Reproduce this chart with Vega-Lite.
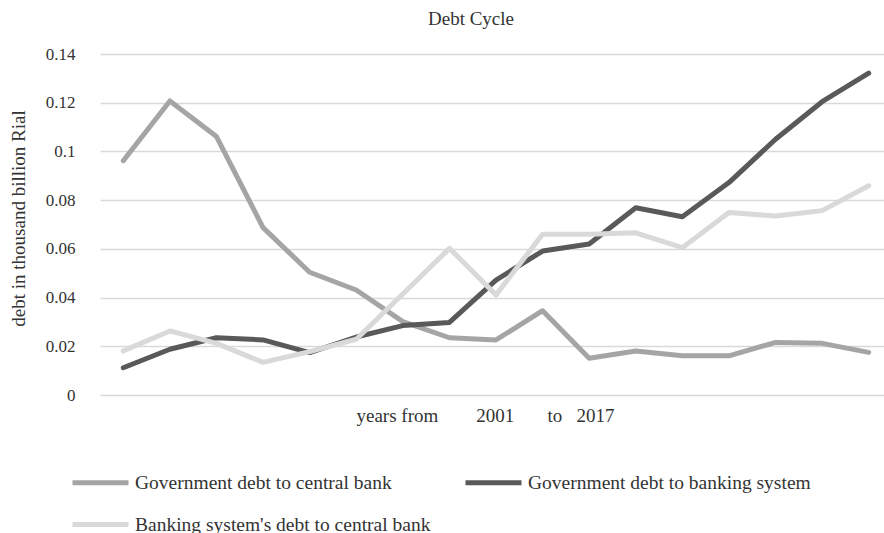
{
  "$schema": "https://vega.github.io/schema/vega-lite/v6.json",
  "autosize": {"type": "none"},
  "padding": {"left": 100, "top": 54, "right": 0, "bottom": 138},
  "width": 792,
  "height": 341,
  "background": "white",
  "title": {"text": "Debt Cycle", "font": "Liberation Serif", "fontSize": 19, "fontWeight": "normal", "color": "#333333", "offset": 16, "dx": -25},
  "config": {
    "view": {"stroke": null},
    "font": "Liberation Serif"
  },
  "data": {"values": [
    {"year": "2001", "series": "Government debt to central bank", "value": 0.0962},
    {"year": "2002", "series": "Government debt to central bank", "value": 0.1207},
    {"year": "2003", "series": "Government debt to central bank", "value": 0.1061},
    {"year": "2004", "series": "Government debt to central bank", "value": 0.0687},
    {"year": "2005", "series": "Government debt to central bank", "value": 0.0504},
    {"year": "2006", "series": "Government debt to central bank", "value": 0.0431},
    {"year": "2007", "series": "Government debt to central bank", "value": 0.0301},
    {"year": "2008", "series": "Government debt to central bank", "value": 0.0235},
    {"year": "2009", "series": "Government debt to central bank", "value": 0.0226},
    {"year": "2010", "series": "Government debt to central bank", "value": 0.0346},
    {"year": "2011", "series": "Government debt to central bank", "value": 0.0151},
    {"year": "2012", "series": "Government debt to central bank", "value": 0.0181},
    {"year": "2013", "series": "Government debt to central bank", "value": 0.0161},
    {"year": "2014", "series": "Government debt to central bank", "value": 0.0161},
    {"year": "2015", "series": "Government debt to central bank", "value": 0.0216},
    {"year": "2016", "series": "Government debt to central bank", "value": 0.0212},
    {"year": "2017", "series": "Government debt to central bank", "value": 0.0175},
    {"year": "2001", "series": "Government debt to banking system", "value": 0.0112},
    {"year": "2002", "series": "Government debt to banking system", "value": 0.0188},
    {"year": "2003", "series": "Government debt to banking system", "value": 0.0235},
    {"year": "2004", "series": "Government debt to banking system", "value": 0.0226},
    {"year": "2005", "series": "Government debt to banking system", "value": 0.0174},
    {"year": "2006", "series": "Government debt to banking system", "value": 0.0238},
    {"year": "2007", "series": "Government debt to banking system", "value": 0.0285},
    {"year": "2008", "series": "Government debt to banking system", "value": 0.0298},
    {"year": "2009", "series": "Government debt to banking system", "value": 0.0472},
    {"year": "2010", "series": "Government debt to banking system", "value": 0.0591},
    {"year": "2011", "series": "Government debt to banking system", "value": 0.062},
    {"year": "2012", "series": "Government debt to banking system", "value": 0.0769},
    {"year": "2013", "series": "Government debt to banking system", "value": 0.0732},
    {"year": "2014", "series": "Government debt to banking system", "value": 0.0872},
    {"year": "2015", "series": "Government debt to banking system", "value": 0.105},
    {"year": "2016", "series": "Government debt to banking system", "value": 0.1204},
    {"year": "2017", "series": "Government debt to banking system", "value": 0.1321},
    {"year": "2001", "series": "Banking system's debt to central bank", "value": 0.0181},
    {"year": "2002", "series": "Banking system's debt to central bank", "value": 0.0263},
    {"year": "2003", "series": "Banking system's debt to central bank", "value": 0.0212},
    {"year": "2004", "series": "Banking system's debt to central bank", "value": 0.0134},
    {"year": "2005", "series": "Banking system's debt to central bank", "value": 0.0178},
    {"year": "2006", "series": "Banking system's debt to central bank", "value": 0.0229},
    {"year": "2007", "series": "Banking system's debt to central bank", "value": 0.0415},
    {"year": "2008", "series": "Banking system's debt to central bank", "value": 0.0602},
    {"year": "2009", "series": "Banking system's debt to central bank", "value": 0.0411},
    {"year": "2010", "series": "Banking system's debt to central bank", "value": 0.066},
    {"year": "2011", "series": "Banking system's debt to central bank", "value": 0.066},
    {"year": "2012", "series": "Banking system's debt to central bank", "value": 0.0666},
    {"year": "2013", "series": "Banking system's debt to central bank", "value": 0.0605},
    {"year": "2014", "series": "Banking system's debt to central bank", "value": 0.0749},
    {"year": "2015", "series": "Banking system's debt to central bank", "value": 0.0735},
    {"year": "2016", "series": "Banking system's debt to central bank", "value": 0.0757},
    {"year": "2017", "series": "Banking system's debt to central bank", "value": 0.0859}
  ]},
  "mark": {"type": "line", "strokeWidth": 5, "strokeCap": "round", "strokeJoin": "round"},
  "encoding": {
    "x": {
      "field": "year", "type": "ordinal",
      "scale": {"type": "point", "padding": 0.5},
      "axis": {
        "title": "years from\u00a0\u00a0\u00a0\u00a0\u00a0\u00a0\u00a0\u00a02001\u00a0\u00a0\u00a0\u00a0\u00a0\u00a0\u00a0to\u00a0\u00a0\u00a02017",
        "labels": false, "ticks": false, "domain": false, "grid": false,
        "titleFont": "Liberation Serif", "titleFontSize": 19, "titleFontWeight": "normal", "titleColor": "#333333",
        "titlePadding": 11, "titleX": 385
      }
    },
    "y": {
      "field": "value", "type": "quantitative",
      "scale": {"domain": [0, 0.14], "nice": false},
      "axis": {
        "title": "debt in thousand billion Rial",
        "values": [0, 0.02, 0.04, 0.06, 0.08, 0.1, 0.12, 0.14],
        "format": "~g",
        "ticks": false, "domain": false,
        "gridColor": "#d9d9d9", "gridWidth": 1.5,
        "labelFont": "Liberation Serif", "labelFontSize": 17, "labelColor": "#333333", "labelPadding": 25,
        "titleFont": "Liberation Serif", "titleFontSize": 19, "titleFontWeight": "normal", "titleColor": "#333333",
        "titlePadding": 17, "titleY": 164
      }
    },
    "color": {
      "field": "series", "type": "nominal",
      "scale": {
        "domain": ["Government debt to central bank", "Government debt to banking system", "Banking system's debt to central bank"],
        "range": ["#a5a5a5", "#595959", "#d9d9d9"]
      },
      "legend": {
        "title": null,
        "orient": "none",
        "legendX": -30,
        "legendY": 412,
        "direction": "horizontal",
        "columns": 2,
        "columnPadding": 24,
        "rowPadding": 15,
        "symbolType": "M-1,0H3",
        "symbolSize": 784,
        "symbolStrokeWidth": 5,
        "labelFont": "Liberation Serif",
        "labelFontSize": 19.5,
        "labelColor": "#333333",
        "labelOffset": 32,
        "labelLimit": 0
      }
    }
  }
}
